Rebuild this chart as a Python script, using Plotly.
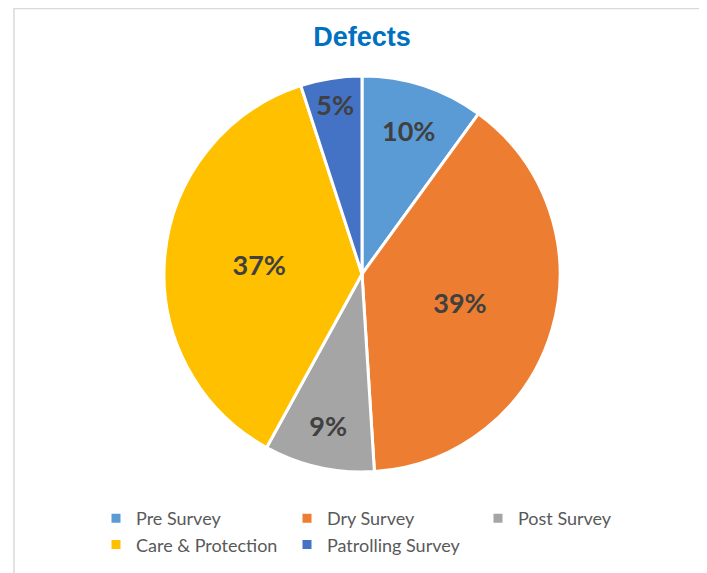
import plotly.graph_objects as go

# dados
categorias = ['Pre Survey', 'Dry Survey', 'Post Survey', 'Care & Protection', 'Patrolling Survey']
percentuais = [10, 39, 9, 37, 5]
cores = ['#5B9BD5', '#ED7D31', '#A5A5A5', '#FFC000', '#4472C4']

W, H = 707, 573
OFF = 8     # margem do body da página html
ML = 88     # margem esquerda (legenda começa aqui)
GW = W - ML


def gx(p):
    # posição da página -> fração da área de plotagem
    return (p - OFF - ML) / GW


def gy(p):
    return 1 - (p - OFF) / H


# pizza: centro (362, 274), raio 198 em pixels da página
cx, cy, r = 362, 274, 198

fig = go.Figure(go.Pie(
    labels=categorias,
    values=percentuais,
    sort=False,
    direction='clockwise',
    rotation=0,
    marker=dict(colors=cores, line=dict(color='white', width=3)),
    texttemplate='<b>%{percent:.0%}</b>',
    textposition='inside',
    insidetextorientation='horizontal',
    textfont=dict(family='Lato', size=27, color='#404040'),
    domain=dict(x=[gx(cx - r), gx(cx + r)], y=[gy(cy + r), gy(cy - r)]),
    hoverinfo='label+percent',
))

fig.update_layout(
    width=W,
    height=H,
    margin=dict(l=ML, r=0, t=0, b=0),
    paper_bgcolor='white',
    plot_bgcolor='white',
    title=dict(
        text='<b>Defects</b>',
        x=(362 - OFF) / W, xanchor='center',
        y=1 - (37 - OFF) / H, yanchor='middle',
        font=dict(family='Liberation Sans', size=27, color='#0070C0'),
    ),
    legend=dict(
        orientation='h',
        x=0, xanchor='left',
        y=gy(500), yanchor='top',
        entrywidth=146, entrywidthmode='pixels',
        font=dict(family='Lato', size=18, color='#595959'),
        bgcolor='rgba(0,0,0,0)',
    ),
    shapes=[dict(
        type='rect', xref='paper', yref='paper',
        x0=gx(14), x1=gx(700), y0=-0.05, y1=0.999,
        line=dict(color='#D9D9D9', width=1.5),
        fillcolor='rgba(0,0,0,0)', layer='below',
    )],
)

fig.write_html("out.html")
